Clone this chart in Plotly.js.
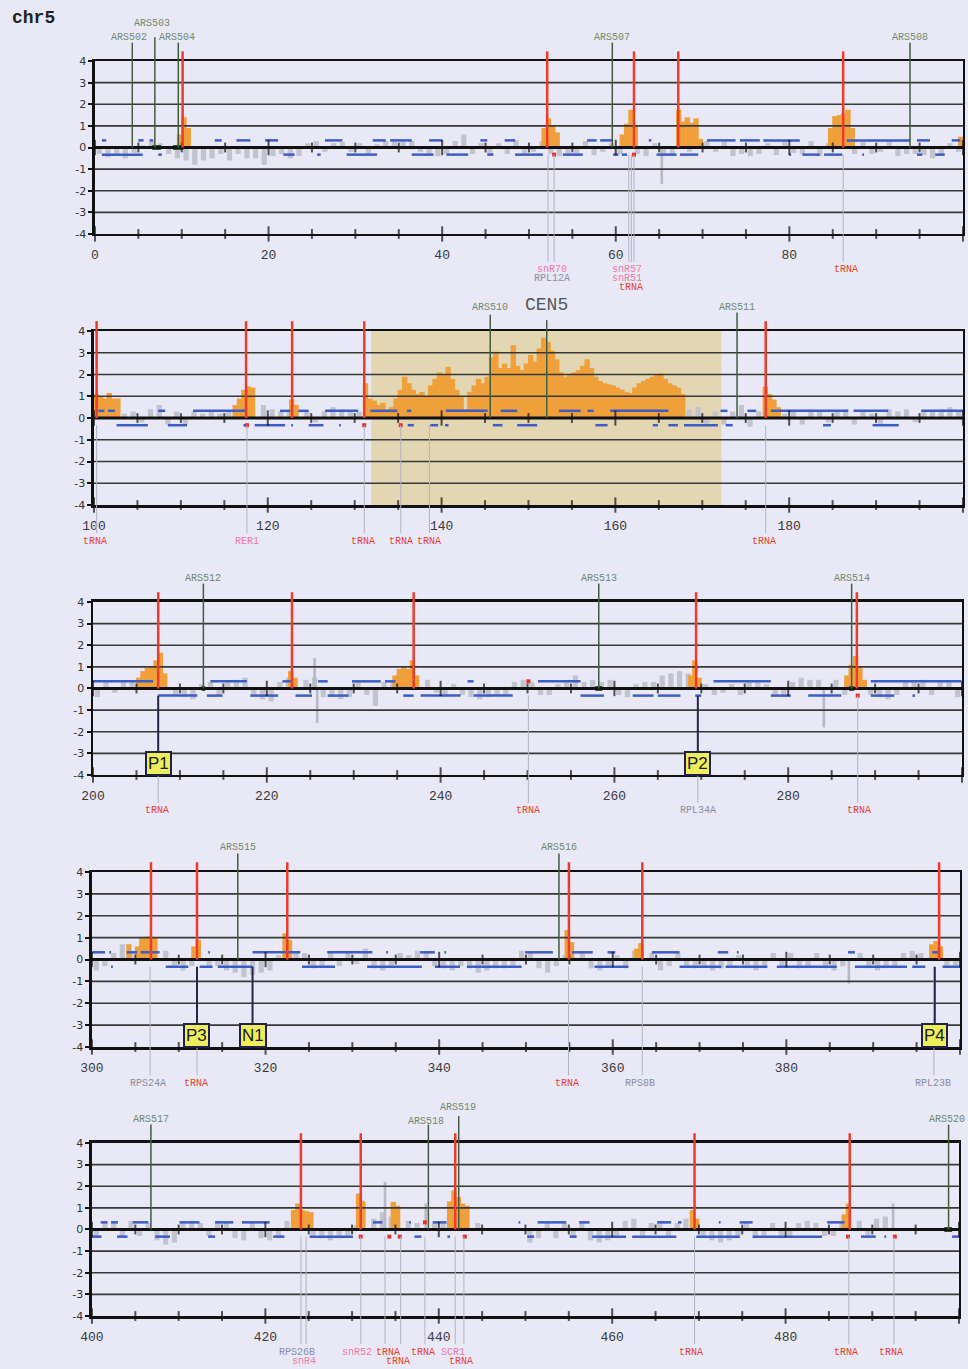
<!DOCTYPE html>
<html><head><meta charset="utf-8">
<script src="https://cdn.plot.ly/plotly-3.0.1.min.js"></script>
<style>html,body{margin:0;padding:0;background:#e8e8f6}#chart{width:968px;height:1369px}</style>
</head><body><div id="chart"></div>
<script>
// ---------------- DATA ----------------
const panelBase = [0, 100, 200, 300, 400];
const xTickVals = [[0,20,40,60,80],[100,120,140,160,180],[200,220,240,260,280],[300,320,340,360,380],[400,420,440,460,480]];
const yTickVals = [-4,-3,-2,-1,0,1,2,3,4];

// background signal (grey), one value per kb, starting at panelBase
const greyY = [
 [-0.3,-0.45,-0.35,-0.5,-0.25,0.1,0.3,0.2,-0.3,-0.5,
  -0.6,-0.8,-0.6,-0.5,-0.3,-0.6,-0.3,-0.5,-0.5,-0.8,
  -0.4,-0.3,-0.5,-0.4,0.2,0.3,-0.2,0.2,0.25,-0.2,
  0.2,-0.3,0.15,0.3,0.4,0.35,0.3,-0.2,-0.3,-0.4,
  -0.3,0.3,0.6,-0.3,0.2,-0.3,0.2,-0.3,0.35,-0.3,
  -0.2,0.3,-0.3,-0.4,-0.3,-0.4,0.3,-0.35,-0.2,0.2,
  -0.3,0.2,-0.3,-0.4,0.2,-0.3,-0.3,0.2,-0.2,0.3,
  0.3,-0.2,0.3,-0.4,-0.3,-0.4,-0.3,0.2,-0.35,0.3,
  -0.25,-0.3,0.3,-0.4,0.2,0.2,0.3,-0.3,0.25,-0.3,
  -0.2,0.3,-0.4,-0.3,-0.3,-0.35,-0.5,-0.3,0.2,-0.2],
 [0.3,0.3,0.3,0.2,0.3,-0.2,0.4,0.6,-0.3,0.3,
  -0.3,0.3,0.2,0.3,0.2,0.3,0,0,0,0.6,
  0.4,0.3,0.3,0,0.3,-0.2,0.3,0.5,0.4,0.3,
  0.3,0,0,0,0,0,0,0,0,0,
  0,0,0.3,0.2,0,0,0,0,0,0,
  0,0,0,0,0,0,0,0,0,0,
  0,0,0,0,0,0,0,0,0.4,0.5,
  -0.3,0.3,-0.3,0.3,0.6,-0.4,0.3,0,0,0.2,
  0.3,-0.3,0.4,0.3,-0.2,0.3,0.4,-0.3,0.3,0.2,
  -0.3,0.4,0.3,0.4,-0.2,0.3,0.3,0.4,0.5,0.3],
 [-0.4,0.3,-0.2,0.3,0.3,0,0,0,0,-0.3,
  -0.4,-0.5,0.2,0.3,-0.3,0.3,0.4,0.5,-0.3,-0.5,
  -0.6,0.3,0.5,0,0.4,0.5,-0.4,-0.4,-0.5,-0.4,
  0.3,-0.3,-0.8,0.3,0.4,0,0,0,0.4,-0.2,
  -0.3,0.2,-0.3,-0.4,-0.5,-0.4,-0.3,-0.3,0.3,0.4,
  0.3,-0.3,-0.3,0.2,0.4,0.6,0.3,0.4,0.3,0.4,
  -0.3,-0.4,0.2,0.3,0.3,0.6,0.7,0.8,0.7,0,
  0.2,-0.3,-0.2,0.2,-0.3,0.3,0.3,0.2,-0.3,-0.4,
  0.3,0.5,0.4,0.4,0,0.4,-0.3,0,0,-0.3,
  -0.4,-0.5,-0.3,0.3,0.3,0.4,-0.3,0.3,0.3,-0.4],
 [-0.5,-0.3,0.3,0.7,0.4,0,0,0,0.4,-0.3,
  -0.5,-0.3,0,-0.3,-0.3,-0.5,-0.6,-0.8,-0.7,-0.6,
  -0.5,0.2,0,0.3,0.3,-0.4,-0.3,0.3,-0.3,0.3,
  -0.2,0.5,-0.4,-0.5,-0.3,0.3,0.2,0.4,0.3,-0.3,
  -0.4,-0.5,-0.3,-0.4,-0.6,-0.5,-0.4,-0.4,-0.3,0.4,
  0.3,-0.4,-0.6,-0.3,0.2,0,0.3,-0.4,-0.5,-0.3,
  0.2,-0.4,0.4,0,0.3,-0.5,-0.3,0.3,-0.3,-0.4,
  -0.3,-0.5,-0.4,-0.3,0.2,-0.4,-0.5,-0.4,0.3,-0.3,
  0.3,-0.4,-0.3,0.3,-0.4,-0.5,-0.3,0,0.3,-0.4,
  -0.5,-0.4,-0.3,0.3,0.4,0.3,0,0,-0.3,-0.3],
 [-0.4,0.3,0.3,-0.3,0.4,-0.3,0.3,-0.5,-0.7,-0.6,
  0.3,0.4,0.3,-0.3,0.4,0.3,-0.4,-0.5,0.3,-0.4,
  -0.5,-0.4,0.4,0,0,-0.3,-0.4,-0.5,-0.4,-0.3,
  0.2,0,0.5,0.8,0.6,0,0.4,0.3,0,0.3,
  0.3,0,0,0,0.3,0,0,0,0,0,
  -0.6,-0.4,0.3,-0.4,0.3,-0.4,0.3,-0.5,-0.6,-0.5,
  -0.4,0.4,0.5,-0.4,0.3,0.4,-0.3,0.3,0.5,0,
  -0.3,-0.5,-0.6,-0.5,-0.4,0.3,-0.4,-0.3,0.3,-0.4,
  -0.3,0.3,0.4,0.3,-0.3,-0.3,0.3,0,0.4,-0.3,
  0.5,0.6,0,0,0,0,0,0,0,0]
];
const spikeX = [[65.3],[],[225.5,225.8,284.1],[387.2],[433.8,438.5,492.4]];
const spikeY = [[-1.7],[],[1.4,-1.6,-1.8],[-1.1],[2.2,1.2,1.2]];

// enriched signal (orange)
const orangeX = [
 [9.75,10.25,10.75,51.75,52.25,52.75,53.25,60.75,61.25,61.75,62.25,67.25,67.75,68.25,68.75,69.25,69.75,84.75,85.25,85.75,86.25,86.75,87.25,99.75],
 [100.25,100.75,101.25,101.75,102.25,102.75,116.25,116.75,117.25,117.75,118.25,122.75,123.25,
  131.25,131.75,132.25,132.75,133.25,133.75,134.25,134.75,135.25,135.75,136.25,136.75,137.25,137.75,138.25,138.75,139.25,139.75,
  140.25,140.75,141.25,141.75,142.25,142.75,143.25,143.75,144.25,144.75,145.25,145.75,146.25,146.75,147.25,147.75,148.25,148.75,149.25,149.75,
  150.25,150.75,151.25,151.75,152.25,152.75,153.25,153.75,154.25,154.75,155.25,155.75,156.25,156.75,157.25,157.75,158.25,158.75,159.25,159.75,
  160.25,160.75,161.25,161.75,162.25,162.75,163.25,163.75,164.25,164.75,165.25,165.75,166.25,166.75,167.25,167.75,
  177.25,177.75,178.25,178.75],
 [205.25,205.75,206.25,206.75,207.25,207.75,208.25,222.75,223.25,234.75,235.25,235.75,236.25,236.75,237.25,268.75,269.25,269.75,286.75,287.25,287.75,288.25,288.75],
 [304.25,305.25,305.75,306.25,306.75,307.25,311.75,312.25,322.25,322.75,354.75,355.25,362.75,363.25,396.75,397.25,397.75],
 [423.25,423.75,424.25,424.75,425.25,430.75,431.25,434.75,435.25,441.25,441.75,442.25,442.75,443.25,469.25,469.75,486.75,487.25]
];
const orangeY = [
 [0.6,1.4,0.9,0.9,1.35,1.0,0.7,0.6,1.1,1.75,1.0,1.75,1.2,1.4,1.15,1.35,0.4,0.9,1.45,1.5,1.6,1.75,0.9,0.5],
 [1.1,1.0,0.9,1.15,0.9,0.9,0.6,0.9,1.3,1.45,1.4,0.85,0.6,
  1.6,0.9,0.8,0.6,0.7,0.4,0.5,0.9,1.3,1.9,1.6,1.3,1.1,1.2,1.0,1.5,1.8,2.1,
  2.0,2.35,1.8,1.3,1.0,0.4,1.2,1.5,1.8,1.6,1.9,2.8,3.05,2.3,2.5,2.3,3.35,2.4,2.2,2.5,
  2.9,2.6,3.2,3.7,3.5,3.1,2.7,2.1,1.9,2.0,2.1,2.2,2.4,2.7,2.3,1.9,1.7,1.6,1.55,1.5,
  1.4,1.3,1.2,1.15,1.4,1.6,1.7,1.8,1.9,2.0,2.05,1.8,1.6,1.5,1.4,1.1,
  1.45,1.1,0.85,0.5],
 [0.5,0.8,0.95,1.0,1.3,1.65,0.7,0.8,0.5,0.6,0.9,1.0,0.9,1.3,0.6,0.6,1.3,0.5,0.6,1.1,1.5,1.0,0.4],
 [0.7,0.6,1.0,1.05,1.05,1.0,0.6,0.9,1.2,0.9,1.35,0.8,0.5,0.75,0.7,0.85,0.6],
 [0.9,1.2,0.9,0.85,0.8,1.66,1.3,1.28,1.1,1.3,1.8,1.5,1.2,1.1,0.9,0.5,0.7,1.2]
];

// segmentation calls (blue), [start, end] in kb
const blueLevel = 0.33;
const blueUp = [
 [[0.8,1.3],[5.0,5.6],[6.3,6.7],[13.8,14.6],[16.3,17.9],[19.6,21.1],[26.5,28.5],[32.0,33.5],[34.0,36.5],[38.5,40.0],[44.4,45.2],[47.2,48.4],[56.7,57.8],[58.2,59.7],[63.8,64.1],[70.5,73.8],[74.3,76.6],[77.0,81.2],[86.6,93.9],[94.7,96.2],[98.7,99.7]],
 [[100.5,101.2],[101.6,102.4],[107.4,108.2],[111.4,117.4],[121.4,122.6],[123.5,124.7],[126.6,130.4],[131.8,134.9],[136.0,136.5],[140.5,145.3],[146.8,148.7],[153.5,156.0],[156.8,157.5],[159.4,166.1],[172.1,172.9],[175.2,176.2],[177.9,186.8],[187.4,191.4],[195.2,200]],
 [[200,206.9],[213.5,217.7],[221.8,223.0],[225.9,227.0],[229.8,233.1],[233.6,234.8],[243.1,243.8],[251.2,256.1],[271.4,278.0],[289.5,299.9]],
 [[300,301.5],[302.0,302.2],[304.0,305.2],[305.6,307.8],[313.4,313.6],[318.5,324.0],[327.1,332.3],[333.9,334.1],[337.8,339.5],[340.6,340.8],[349.9,353.1],[355.3,357.7],[359.4,360.3],[364.5,367.7],[372.1,373.3],[374.3,374.5],[387.1,387.9],[396.8,397.7]],
 [[401.0,401.8],[402.2,403.0],[404.7,406.5],[410.1,412.4],[414.2,416.3],[417.3,420.5],[432.4,433.5],[436.6,436.8],[439.3,440.9],[449.2,449.4],[451.4,454.7],[456.2,457.4],[465.2,466.8],[467.6,468.0],[472.3,472.5],[474.7,476.2],[484.8,486.8]]
];
const blueDn = [
 [[0.8,5.5],[7.3,7.7],[21.7,23.0],[25.6,26.0],[29.0,32.5],[36.5,39.0],[40.5,43.0],[45.2,45.9],[48.4,51.6],[53.9,56.2],[59.7,60.3],[60.7,61.3],[64.7,67.0],[67.4,69.5],[80.0,80.2],[81.5,83.5],[84.0,86.1],[88.4,88.6],[94.7,95.3],[96.8,97.9]],
 [[102.6,106.2],[108.5,110.7],[117.2,117.6],[118.5,122.0],[122.7,122.9],[124.7,126.4],[128.2,128.4],[136.1,136.8],[138.7,139.6],[140.4,140.8],[145.9,147.0],[148.7,151.0],[157.7,159.1],[164.3,164.9],[166.1,167.2],[167.9,171.8],[172.7,173.5],[183.9,184.8],[189.6,192.6]],
 [[207.5,212.0],[213.1,214.9],[218.1,221.3],[223.3,225.2],[227.0,229.4],[235.7,236.9],[237.7,242.3],[243.8,248.3],[256.1,258.8],[262.1,264.5],[265.0,267.6],[269.3,270.0],[278.0,280.3],[282.3,286.1],[289.5,292.2],[294.3,294.6]],
 [[302.2,302.4],[308.5,311.1],[312.4,313.9],[314.5,318.5],[324.2,328.0],[331.7,338.0],[339.5,342.4],[343.2,349.5],[357.9,361.8],[367.7,372.5],[373.0,377.8],[378.9,385.8],[387.9,393.9],[394.5,396.0],[398.0,400]],
 [[399.9,401.1],[402.9,404.1],[407.3,409.0],[413.4,414.2],[420.9,422.2],[425.1,430.1],[437.2,438.0],[441.0,441.3],[450.2,451.0],[455.1,455.9],[457.7,461.6],[462.3,467.4],[469.7,474.7],[476.2,484.2],[488.7,490.4],[491.4,491.6],[499.2,500]]
];

// tRNA genes (red lines)
const trnaX = [[10.1,52.1,62.1,67.2,86.2],[100.3,117.5,122.8,131.1,177.3],[207.5,222.9,236.9,269.4,287.9],[306.8,312.1,322.5,354.95,363.4,397.6],[424.1,431.0,441.9,469.5,487.4]];

// ARS elements
const arsName = [["ARS502","ARS503","ARS504","ARS507","ARS508"],["ARS510","ARS511"],["ARS512","ARS513","ARS514"],["ARS515","ARS516"],["ARS517","ARS518","ARS519","ARS520"]];
const arsX = [[4.3,6.9,9.6,59.6,93.9],[145.6,174.0],[212.7,258.2,287.3],[316.8,353.8],[406.8,438.8,442.3,498.8]];
const arsLabelX = [[3.9,6.6,9.5,59.6,93.9],[145.6,174.0],[212.7,258.2,287.3],[316.8,353.8],[406.8,438.5,442.2,498.6]];
const arsTop = [[4.85,5.1,4.85,4.85,4.85],[4.75,4.85],[4.85,4.85,4.85],[4.85,4.85],[4.85,4.85,5.25,4.85]];
const arsLabelY = [[5.1,5.72,5.1,5.1,5.1],[5.1,5.1],[5.1,5.1,5.1],[5.1,5.1],[5.1,5.0,5.65,5.1]];
const arsBlocks = [[[6.6,7.6],[9.0,10.2]],[],[[212.5,212.9],[257.8,258.6],[287.0,287.6]],[],[[498.3,499.2]]];

// centromere
const cenName = "CEN5";
const cenX = 152.1;
const cenRegion = [131.9, 172.2];

// gene annotations below the axes
const geneLineX = [[52.2,52.9,61.5,61.8,62.1,86.2],[100.3,117.6,131.1,135.3,138.6,177.3],[207.5,250.1,269.6,288.0],[306.7,312.1,354.9,363.4,397.0],[424.1,424.7,431.0,433.8,435.6,438.4,441.9,442.9,469.5,487.3,492.5]];
const geneText = [["snR70","RPL12A","snR57","snR51","tRNA","tRNA"],["tRNA","RER1","tRNA","tRNA","tRNA","tRNA"],["tRNA","tRNA","RPL34A","tRNA"],["RPS24A","tRNA","tRNA","RPS8B","RPL23B"],["RPS26B","snR4","snR52","tRNA","tRNA","tRNA","SCR1","tRNA","tRNA","tRNA","tRNA"]];
const geneTextX = [[52.6,52.6,61.3,61.3,61.75,86.5],[100.1,117.6,130.9,135.3,138.5,177.1],[207.4,250.1,269.6,288.1],[306.5,312.0,354.7,363.1,396.9],[423.6,424.4,430.6,434.1,435.3,438.2,441.6,442.6,469.1,487.0,492.1]];
const geneRow = [[1,2,1,2,3,1],[1,1,1,1,1,1],[1,1,1,1],[1,1,1,1,1],[1,2,1,1,2,1,1,2,1,1,1]];
const geneKind = [["snr","orf","snr","snr","trna","trna"],["trna","snr","trna","trna","trna","trna"],["trna","trna","orf","trna"],["orf","trna","trna","orf","orf"],["orf","snr","snr","trna","trna","trna","snr","trna","trna","trna","trna"]];

// small red marks on the segmentation levels
const redDotX = [[52.9,62.1],[117.6,131.1,135.3],[250.1,288.0],[],[431.0,434.3,435.5,438.4,443.0,487.2,492.6]];
const redDotY = [[-0.33,-0.33],[-0.33,-0.33,-0.33],[0.33,-0.33],[],[-0.33,-0.33,-0.33,0.33,-0.33,-0.33,-0.33]];

// labelled probes
const boxName = [[],[],["P1","P2"],["P3","N1","P4"],[]];
const boxX = [[],[],[207.5,269.6],[312.1,318.5,397.1],[]];
const boxY = -3.46;

// ---------------- STYLE / LAYOUT ----------------
const BG = '#e8e8f6';
const xDom = [[0.0981,0.9948],[0.0971,0.9948],[0.0961,0.9938],[0.0950,0.9917],[0.0950,0.9907]];
const yDom = [[0.8291,0.9554],[0.6311,0.7582],[0.4339,0.5603],[0.2352,0.3630],[0.0387,0.1651]];
const Y0 = -4, Y1 = 4;
const dom = v => (v - Y0) / (Y1 - Y0);
const rowOffset = {1: 36, 2: 45, 3: 54};
const kindColor = {trna:'#e8432e', snr:'#f07aa6', orf:'#8c8ca4'};

const data = [], shapes = [], annotations = [];
const layout = {
  width: 968, height: 1369, margin: {l:0, r:0, t:0, b:0},
  paper_bgcolor: BG, plot_bgcolor: BG, showlegend: false, barmode: 'overlay',
  font: {family: 'Liberation Mono, DejaVu Sans Mono, monospace', color: '#333'}
};

function segXY(segs, level) {
  const x = [], y = [];
  segs.forEach(s => { x.push(s[0], s[1], null); y.push(level, level, null); });
  return {x, y};
}

for (let i = 0; i < 5; i++) {
  const n = i === 0 ? '' : String(i + 1);
  const xa = 'x' + n, ya = 'y' + n;
  const xd = xa + ' domain', yd = ya + ' domain';
  const base = panelBase[i];

  layout['xaxis' + n] = {
    domain: xDom[i], anchor: ya, range: [base, base + 100], fixedrange: true,
    showgrid: false, zeroline: false, showline: true, mirror: true,
    linecolor: '#111', linewidth: 2.5, ticks: '', tickvals: xTickVals[i],
    ticktext: xTickVals[i].map(String), ticklabelstandoff: 7,
    tickfont: {family: 'Liberation Mono, monospace', size: 13, color: '#3a3a3a'}
  };
  layout['yaxis' + n] = {
    domain: yDom[i], anchor: xa, range: [Y0, Y1], fixedrange: true,
    showgrid: false, zeroline: false, showline: true, mirror: true,
    linecolor: '#111', linewidth: 2.5, ticks: 'outside', ticklen: 4, tickwidth: 2, tickcolor: '#111',
    tickvals: yTickVals, ticktext: yTickVals.map(String),
    tickfont: {family: 'DejaVu Sans, sans-serif', size: 11, color: '#333'}
  };

  // grey background signal
  data.push({type: 'bar', xaxis: xa, yaxis: ya, x: greyY[i].map((v, k) => base + k + 0.5), y: greyY[i],
    width: 0.6, marker: {color: '#c3c3d0', line: {width: 0}}, hoverinfo: 'skip'});
  if (spikeX[i].length) data.push({type: 'bar', xaxis: xa, yaxis: ya, x: spikeX[i], y: spikeY[i],
    width: 0.3, marker: {color: '#b8b8c6', line: {width: 0}}, hoverinfo: 'skip'});
  // orange enrichment
  data.push({type: 'bar', xaxis: xa, yaxis: ya, x: orangeX[i], y: orangeY[i],
    width: 0.62, marker: {color: '#f0a03a', line: {width: 0}}, hoverinfo: 'skip'});
  // blue segments
  const up = segXY(blueUp[i], blueLevel), dn = segXY(blueDn[i], -blueLevel);
  data.push({type: 'scatter', mode: 'lines', xaxis: xa, yaxis: ya, x: up.x, y: up.y, connectgaps: false,
    line: {color: '#3d5cc6', width: 2.5}, hoverinfo: 'skip'});
  data.push({type: 'scatter', mode: 'lines', xaxis: xa, yaxis: ya, x: dn.x, y: dn.y, connectgaps: false,
    line: {color: '#3d5cc6', width: 2.5}, hoverinfo: 'skip'});
  // ARS blocks at zero
  if (arsBlocks[i].length) {
    const b = segXY(arsBlocks[i], 0);
    data.push({type: 'scatter', mode: 'lines', xaxis: xa, yaxis: ya, x: b.x, y: b.y,
      line: {color: '#2d5a2d', width: 5}, hoverinfo: 'skip', cliponaxis: false});
  }
  // red marks
  if (redDotX[i].length) data.push({type: 'scatter', mode: 'markers', xaxis: xa, yaxis: ya, x: redDotX[i], y: redDotY[i],
    marker: {symbol: 'square', size: 4, color: '#e8302a'}, hoverinfo: 'skip'});

  // tick marks on the zero line and bottom line, every 5 kb
  const tx = [], sz = [];
  for (let k = 0; k <= 20; k++) { tx.push(base + 5 * k); sz.push(k % 4 === 0 ? 11 : 7); }
  [0, Y0].forEach(yv => data.push({type: 'scatter', mode: 'markers', xaxis: xa, yaxis: ya, x: tx, y: tx.map(() => yv),
    cliponaxis: false, marker: {symbol: 'line-ns', size: sz, color: '#111', line: {width: 2, color: '#111'}}, hoverinfo: 'skip'}));

  // centromere shading
  if (i === 1) shapes.push({type: 'rect', xref: xa, yref: yd, x0: cenRegion[0], x1: cenRegion[1], y0: 0, y1: 1,
    fillcolor: '#e3d6b2', line: {width: 0}, layer: 'below'});

  // grid lines drawn over the data
  yTickVals.filter(v => v > Y0 && v < Y1).forEach(v => shapes.push({type: 'line', xref: xd, yref: ya,
    x0: 0, x1: 1, y0: v, y1: v, layer: 'above', line: {color: v === 0 ? '#111' : '#383838', width: v === 0 ? 3 : 1.6}}));

  // gene annotation lines + labels
  geneLineX[i].forEach(x => shapes.push({type: 'line', xref: xa, yref: yd, x0: x, x1: x,
    y0: dom(-blueLevel), y1: -28 / 173, layer: 'above', line: {color: '#b3b3c6', width: 1}}));
  geneText[i].forEach((t, k) => annotations.push({xref: xa, yref: yd, x: geneTextX[i][k], y: -rowOffset[geneRow[i][k]] / 173,
    text: t, showarrow: false, xanchor: 'center', yanchor: 'middle',
    font: {family: 'Liberation Mono, monospace', size: 10, color: kindColor[geneKind[i][k]]}}));

  // probe boxes
  boxName[i].forEach((t, k) => {
    shapes.push({type: 'line', xref: xa, yref: ya, x0: boxX[i][k], x1: boxX[i][k], y0: -blueLevel, y1: -2.95,
      layer: 'above', line: {color: '#26264a', width: 2}});
    annotations.push({xref: xa, yref: ya, x: boxX[i][k], y: boxY, text: t, showarrow: false,
      bgcolor: '#eeee5c', bordercolor: '#20204a', borderwidth: 2, borderpad: 1,
      font: {family: 'Liberation Sans, Arial, sans-serif', size: 17, color: '#1a1a1a'}});
  });

  // ARS lines + labels
  arsX[i].forEach((x, k) => {
    shapes.push({type: 'line', xref: xa, yref: yd, x0: x, x1: x, y0: dom(0), y1: dom(arsTop[i][k]),
      layer: 'above', line: {color: '#3e5e3e', width: 1.5}});
    annotations.push({xref: xa, yref: yd, x: arsLabelX[i][k], y: dom(arsLabelY[i][k]), text: arsName[i][k], showarrow: false,
      xanchor: 'center', yanchor: 'middle', font: {family: 'Liberation Mono, monospace', size: 10, color: '#6f8a70'}});
  });
  if (i === 1) {
    shapes.push({type: 'line', xref: xa, yref: yd, x0: cenX, x1: cenX, y0: dom(0), y1: dom(4.5),
      layer: 'above', line: {color: '#3e5e3e', width: 1.5}});
    annotations.push({xref: xa, yref: yd, x: cenX, y: dom(5.2), text: cenName, showarrow: false,
      xanchor: 'center', yanchor: 'middle', font: {family: 'Liberation Mono, monospace', size: 18, color: '#4f5a5a'}});
  }

  // tRNA red lines
  trnaX[i].forEach(x => shapes.push({type: 'line', xref: xa, yref: yd, x0: x, x1: x, y0: dom(0), y1: dom(4.45),
    layer: 'above', line: {color: '#ee3b2a', width: 2.5}}));
}

annotations.push({xref: 'paper', yref: 'paper', x: 10 / 968, y: 1 - 18 / 1369, xanchor: 'left', yanchor: 'middle',
  text: '<b>chr5</b>', showarrow: false, font: {family: 'Liberation Mono, monospace', size: 18, color: '#222'}});

layout.shapes = shapes;
layout.annotations = annotations;

Plotly.newPlot('chart', data, layout, {staticPlot: true, displayModeBar: false});
</script></body></html>
